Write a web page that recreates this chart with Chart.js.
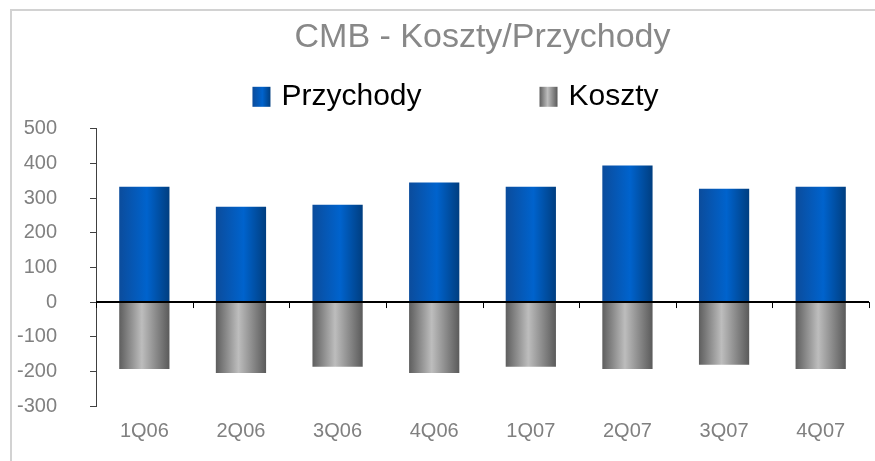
<!DOCTYPE html>
<html>
<head>
<meta charset="utf-8">
<script src="https://cdn.jsdelivr.net/npm/chart.js@4.4.1/dist/chart.umd.min.js"></script>
<style>
  html, body { margin: 0; padding: 0; background: #fff; }
  #wrap { position: relative; width: 875px; height: 461px; }
  #frame {
    position: absolute; left: 10px; top: 9px; right: -5px; bottom: -5px;
    border-top: 2px solid #d2d2d2; border-left: 2px solid #d2d2d2;
  }
  canvas { position: absolute; left: 0; top: 0; }
</style>
</head>
<body>
<div id="wrap">
  <div id="frame"></div>
  <canvas id="chart" width="875" height="461"></canvas>
</div>
<script>
// dane
const quarters = ["1Q06", "2Q06", "3Q06", "4Q06", "1Q07", "2Q07", "3Q07", "4Q07"];
const przychody = [333, 275, 281, 345, 333, 394, 327, 333];
const koszty = [-193, -205, -187, -205, -187, -193, -181, -193];
const yTicks = [-300, -200, -100, 0, 100, 200, 300, 400, 500];

const FONT = '"Liberation Sans", Arial, sans-serif';
const BAR_PCT = 0.52;

// kolory gradientow (od lewej do prawej krawedzi slupka)
const blueStops = [[0, "#0b4c9c"], [0.55, "#0063cd"], [1, "#003e80"]];
const grayStops = [[0, "#5e5e5e"], [0.45, "#bdbdbd"], [1, "#5a5a5a"]];

function makeGradient(ctx, x0, x1, stops) {
  const g = ctx.createLinearGradient(x0, 0, x1, 0);
  stops.forEach(([p, c]) => g.addColorStop(p, c));
  return g;
}

function barGradient(stops) {
  return (context) => {
    const chart = context.chart;
    const xScale = chart.scales.x;
    if (!xScale || !chart.chartArea) return stops[1][1];
    const center = xScale.getPixelForValue(context.dataIndex);
    const half = (xScale.width / quarters.length) * BAR_PCT / 2;
    return makeGradient(chart.ctx, center - half, center + half, stops);
  };
}

// linia zera z kreskami na granicach kategorii
const zeroAxis = {
  id: "zeroAxis",
  afterDatasetsDraw(chart) {
    const { ctx, chartArea, scales } = chart;
    const y0 = scales.y.getPixelForValue(0);
    const step = scales.x.width / quarters.length;
    ctx.save();
    ctx.strokeStyle = "#000";
    ctx.lineWidth = 2;
    ctx.beginPath();
    ctx.moveTo(chartArea.left, y0);
    ctx.lineTo(chartArea.right, y0);
    ctx.stroke();
    ctx.lineWidth = 1;
    ctx.beginPath();
    for (let i = 0; i <= quarters.length; i++) {
      const x = Math.round(scales.x.left + i * step) + 0.5;
      ctx.moveTo(x, y0);
      ctx.lineTo(x, y0 + 6);
    }
    ctx.stroke();
    ctx.restore();
  },
};

// legenda rysowana recznie (duzy odstep miedzy pozycjami)
const topLegend = {
  id: "topLegend",
  afterDraw(chart) {
    const ctx = chart.ctx;
    ctx.save();
    ctx.font = "30px " + FONT;
    ctx.textBaseline = "middle";
    const box = 18, gapText = 11, gapItem = 118;
    const items = chart.data.datasets.map((ds) => ({
      text: ds.label,
      w: ctx.measureText(ds.label).width,
      stops: ds.swatch,
    }));
    let total = 0;
    items.forEach((it, i) => {
      total += box + gapText + it.w + (i < items.length - 1 ? gapItem : 0);
    });
    let x = chart.width / 2 + 18 - total / 2;
    const y = chart.chartArea.top - 32;
    items.forEach((it) => {
      ctx.fillStyle = makeGradient(ctx, x, x + box, it.stops);
      ctx.fillRect(x, y - 10, box, 20);
      ctx.fillStyle = "#000";
      ctx.fillText(it.text, x + box + gapText, y);
      x += box + gapText + it.w + gapItem;
    });
    ctx.restore();
  },
};

new Chart(document.getElementById("chart"), {
  type: "bar",
  data: {
    labels: quarters,
    datasets: [
      {
        label: "Przychody",
        data: przychody,
        backgroundColor: barGradient(blueStops),
        swatch: blueStops,
        barPercentage: BAR_PCT,
        categoryPercentage: 1,
      },
      {
        label: "Koszty",
        data: koszty,
        backgroundColor: barGradient(grayStops),
        swatch: grayStops,
        barPercentage: BAR_PCT,
        categoryPercentage: 1,
      },
    ],
  },
  options: {
    responsive: false,
    animation: false,
    devicePixelRatio: 1,
    // os Y liczy padding etykiet podwojnie, stad ujemny lewy margines
    layout: { padding: { left: -16, right: 6, top: 0, bottom: 5 } },
    plugins: {
      legend: { display: false },
      tooltip: { enabled: false },
      title: {
        display: true,
        fullSize: false,
        text: "CMB - Koszty/Przychody",
        color: "#888888",
        font: { family: FONT, size: 34, weight: "normal" },
        padding: { top: 17, bottom: 71 },
      },
    },
    scales: {
      x: {
        stacked: true,
        grid: { display: false, drawTicks: false },
        border: { display: false },
        ticks: { color: "#808080", font: { family: FONT, size: 20 }, padding: 13 },
      },
      y: {
        stacked: true,
        min: -300,
        max: 500,
        afterBuildTicks: (axis) => { axis.ticks = yTicks.map((v) => ({ value: v })); },
        grid: { drawOnChartArea: false, drawTicks: true, tickLength: 6, color: "#404040" },
        border: { display: true, color: "#404040", width: 1 },
        ticks: { color: "#808080", font: { family: FONT, size: 20 }, padding: 33 },
      },
    },
  },
  plugins: [zeroAxis, topLegend],
});
</script>
</body>
</html>
